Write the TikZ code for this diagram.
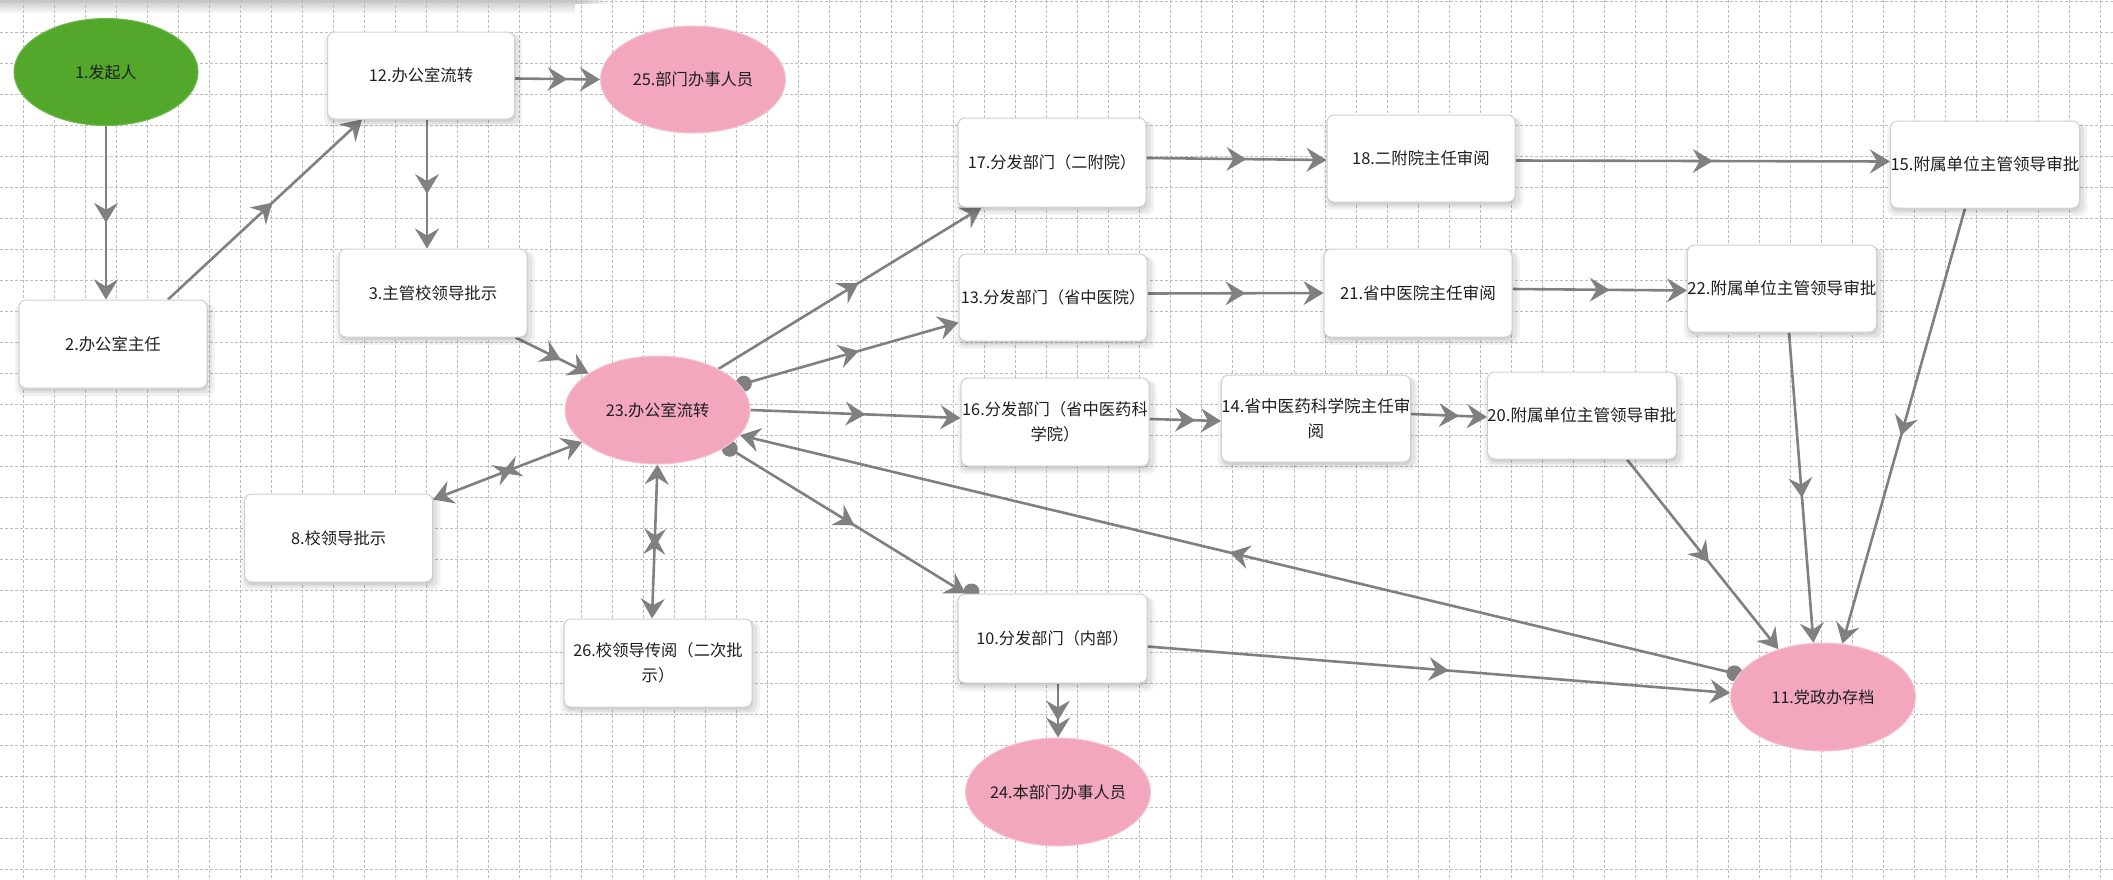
\documentclass[tikz,border=0pt]{standalone}
\usepackage{fontspec}
\newfontfamily\cjk{Noto Sans CJK SC}
\usetikzlibrary{shapes.geometric,arrows.meta,decorations.markings,shadows,calc}
\definecolor{eg}{HTML}{808080}
\definecolor{gridc}{HTML}{BDBDBD}
\definecolor{boxb}{HTML}{CFCFCF}
\definecolor{pinkc}{HTML}{F2A7BD}
\definecolor{pinkb}{HTML}{F6C3D2}
\definecolor{greenc}{HTML}{53A82B}
\definecolor{greenb}{HTML}{6DBA48}
\definecolor{txt}{HTML}{1E1E1E}
\pgfdeclarelayer{gridlayer}
\pgfdeclarelayer{edgelayer}
\pgfsetlayers{gridlayer,edgelayer,main}
\newcommand\midhead{\fill[eg] (10pt,0pt) -- (-10pt,12pt) -- (-3pt,0pt) -- (-10pt,-12pt) -- cycle;}
\newcommand\midx{\fill[eg] (6pt,0pt) -- (-13pt,11pt) -- (-6pt,0pt) -- (-13pt,-11pt) -- cycle;
  \fill[eg] (-6pt,0pt) -- (13pt,11pt) -- (6pt,0pt) -- (13pt,-11pt) -- cycle;}
\newcommand\startdot{\fill[eg] (4pt,0pt) circle[radius=8pt];}
\tikzset{
  fs/.style={font={\cjk\fontsize{#1}{25}\selectfont}},
  shad/.style={
    drop shadow={shadow xshift=2pt,shadow yshift=-5pt,opacity=0.05,fill=black,shadow scale=1.06},
    drop shadow={shadow xshift=2pt,shadow yshift=-4pt,opacity=0.06,fill=black,shadow scale=1.03},
    drop shadow={shadow xshift=1pt,shadow yshift=-3pt,opacity=0.07,fill=black}},
  nbox/.style={shad, draw=boxb, line width=1pt, fill=white, rounded corners=7pt,
    minimum width=188pt, minimum height=88pt, inner sep=0pt, align=center, text=txt},
  nell/.style={ellipse, fill=pinkc, draw=pinkb, line width=1pt,
    minimum width=185pt, minimum height=108pt, inner ysep=0pt, inner xsep=-20pt, text=txt},
  ngreen/.style={ellipse, fill=greenc, draw=greenb, line width=1pt,
    minimum width=184pt, minimum height=107pt, inner ysep=0pt, inner xsep=-20pt, text=txt},
  tipa/.tip={Stealth[length=20pt,width=24pt,inset=7pt]},
  e/.style={draw=eg, line width=2.6pt, -tipa,
    postaction={decorate, decoration={markings, mark=at position 0.5 with {\midhead}}}},
  ed/.style={draw=eg, line width=2.6pt, -tipa,
    postaction={decorate, decoration={markings, mark=at position 0.0001 with {\startdot},
      mark=at position 0.5 with {\midhead}}}},
  eb/.style={draw=eg, line width=2.6pt, tipa-tipa,
    postaction={decorate, decoration={markings, mark=at position 0.5 with {\midx}}}},
  gridl/.style={draw=gridc, line width=1pt, dash pattern=on 2.5pt off 2.5pt}
}
\begin{document}
\begin{tikzpicture}[x=1pt,y=-1pt]
\useasboundingbox (0,0) rectangle (2113,879);
\begin{pgfonlayer}{gridlayer}
\fill[white] (0,0) rectangle (2113,879);
\shade[top color=black!22, bottom color=white] (0,0) rectangle (575,14);
\shade[left color=black!22!white, right color=white] (575,0) rectangle (612,3);
\foreach \i in {0,...,67} \draw[gridl] (23.3+31*\i,0) -- (23.3+31*\i,879);
\foreach \j in {0,...,28} \draw[gridl] (0,1.5+31*\j) -- (2113,1.5+31*\j);
\end{pgfonlayer}

% nodes
\node[ngreen, fs=16] (n1) at (106,72) {1.发起人};
\node[nbox, fs=16.4] (n2) at (113,344) {2.办公室主任};
\node[nbox, fs=16.3, minimum width=187pt, minimum height=87pt] (n12) at (421,75.5) {12.办公室流转};
\node[nell, fs=16.3, minimum height=107pt] (n25) at (693,79.5) {25.部门办事人员};
\node[nbox, fs=16.4] (n3) at (433,293) {3.主管校领导批示};
\node[nell, fs=16.2] (n23) at (657.5,410) {23.办公室流转};
\node[nbox, fs=16.2, minimum height=89pt] (n17) at (1052,162.5) {17.分发部门（二附院）};
\node[nbox, fs=16.4, minimum height=87pt] (n18) at (1421,158.5) {18.二附院主任审阅};
\node[nbox, fs=16.2, minimum height=87pt] (n13) at (1053,297.5) {13.分发部门（省中医院）};
\node[nbox, fs=16.6] (n21) at (1418,293) {21.省中医院主任审阅};
\node[nbox, fs=16.3] (n16) at (1055,422) {16.分发部门（省中医药科\\学院）};
\node[nbox, fs=16.6, minimum height=87pt] (n14) at (1316,418.5) {14.省中医药科学院主任审\\阅};
\node[nbox, fs=16.6, minimum height=87pt] (n20) at (1582,415.5) {20.附属单位主管领导审批};
\node[nbox, fs=16.6, minimum width=187pt, minimum height=87pt] (n15) at (1985,164.5) {15.附属单位主管领导审批};
\node[nbox, fs=16.6, minimum height=87pt] (n22) at (1782,288.5) {22.附属单位主管领导审批};
\node[nbox, fs=16.3] (n8) at (338.6,538) {8.校领导批示};
\node[nbox, fs=16.3] (n26) at (658,663) {26.校领导传阅（二次批\\示）};
\node[nbox, fs=16.2, minimum width=189pt, minimum height=89pt] (n10) at (1052.5,638.5) {10.分发部门（内部）};
\node[nell, fs=16.2] (n24) at (1058,792) {24.本部门办事人员};
\node[nell, fs=16.1] (n11) at (1823,697) {11.党政办存档};

% connectors
\begin{pgfonlayer}{edgelayer}
\draw[e] (n1.south) -- ([xshift=-7pt]n2.north);
\draw[e] ([xshift=55pt]n2.north) -- ([xshift=35pt]n12.south west);
\draw[e] ([yshift=-3pt]n12.east) -- (n25.west);
\draw[e] ([xshift=6pt]n12.south) -- ([xshift=-6pt]n3.north);
\draw[e] ([xshift=-12pt]n3.south east) -- (n23.152);
\draw[e] (n23.34) -- ([xshift=24pt]n17.south west);
\draw[ed] (n23.17) -- ([yshift=-25pt]n13.west);
\draw[e] (n23.east) -- ([yshift=4pt]n16.west);
\draw[ed] (n11.165) -- (n23.343);
\draw[ed] (n23.332) -- ([xshift=8pt]n10.north west);
\fill[eg] ([xshift=14pt,yshift=2pt]n10.north west) circle[radius=8pt];
\draw[eb] (n23.203) -- ([yshift=-6pt]n8.north east);
\draw[eb] (n23.south) -- ([xshift=-6pt]n26.north);
\draw[e] ([yshift=4.5pt]n17.east) -- ([yshift=-1.5pt]n18.west);
\draw[e] ([yshift=4pt]n13.east) -- (n21.west);
\draw[e] ([yshift=3pt]n16.east) -- ([yshift=-2.5pt]n14.west);
\draw[e] ([yshift=4.5pt]n14.east) -- ([yshift=-1.5pt]n20.west);
\draw[e] ([yshift=-2pt]n18.east) -- ([yshift=3pt]n15.west);
\draw[e] ([yshift=4pt]n21.east) -- ([yshift=-2pt]n22.west);
\draw[e] ([xshift=7pt]n22.south) -- (n11.100);
\draw[e] ([xshift=-20pt]n15.south) -- (n11.70);
\draw[e] ([xshift=45pt]n20.south) -- (n11.133);
\draw[e] ([yshift=-8pt]n10.east) -- ([yshift=4pt]n11.west);
\draw[e] ([xshift=5.5pt]n10.south) -- (n24.north);
\end{pgfonlayer}
\end{tikzpicture}
\end{document}
